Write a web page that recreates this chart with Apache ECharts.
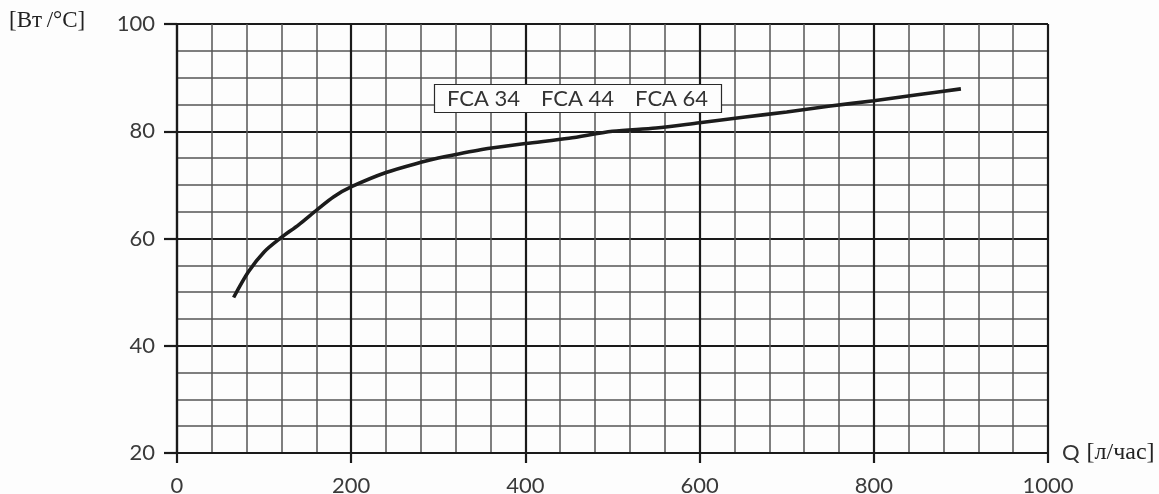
<!DOCTYPE html>
<html>
<head>
<meta charset="utf-8">
<script src="https://cdn.jsdelivr.net/npm/echarts@6/dist/echarts.min.js"></script>
<style>
  html, body { margin: 0; padding: 0; background: #fdfdfd; }
  #chart { width: 1159px; height: 494px; }
</style>
</head>
<body>
<div id="chart"></div>
<script>
// Heat output per degree vs. water flow for FCA 34 / 44 / 64
const flowLh = [65, 82, 100, 119, 140, 161, 180, 201, 240, 280, 300, 350, 400, 450, 500, 550, 600, 650, 700, 750, 800, 850, 900];
const outputWperC = [49, 53.8, 57.5, 60.1, 62.6, 65.4, 67.8, 69.7, 72.3, 74.2, 75.0, 76.6, 77.7, 78.7, 80.0, 80.6, 81.6, 82.6, 83.6, 84.7, 85.7, 86.8, 87.9];
const xTicks = [0, 200, 400, 600, 800, 1000];
const yTicks = [20, 40, 60, 80, 100];
const models = ['FCA 34', 'FCA 44', 'FCA 64'];
const yUnit = '[Вт\u2009/°C]';
const xName = 'Q';
const xUnit = '[л/час]';

const chart = echarts.init(document.getElementById('chart'), null, { renderer: 'canvas' });

const labelFont = 'Lato, "Open Sans", sans-serif';
const serifFont = '"Liberation Serif", "DejaVu Serif", serif';
const majorLine = { color: '#1a1a1a', width: 2.2 };
const minorLine = { color: '#555', width: 1.5 };

// model list shown in a framed box, groups separated by fixed gaps
const modelsText = models.map(m => '{a|' + m + '}').join('{g| }');

chart.setOption({
  backgroundColor: '#fdfdfd',
  animation: false,
  grid: {
    left: 177, right: 111, top: 24, bottom: 41,
    containLabel: false,
    outerBoundsMode: 'none'
  },
  title: {
    text: modelsText,
    left: 434,
    top: 84,
    padding: [3, 14, 3, 13],
    backgroundColor: '#fdfdfd',
    borderColor: '#2a2a2a',
    borderWidth: 1.2,
    textStyle: {
      fontWeight: 'normal',
      rich: {
        a: { fontFamily: labelFont, fontSize: 22, fontWeight: 'normal', color: '#333', lineHeight: 23 },
        g: { fontSize: 22, width: 21, lineHeight: 23 }
      }
    }
  },
  xAxis: {
    type: 'value',
    min: xTicks[0],
    max: xTicks[xTicks.length - 1],
    interval: xTicks[1] - xTicks[0],
    name: '{q|' + xName + '}{s| }{u|' + xUnit + '}',
    nameLocation: 'end',
    nameGap: 14,
    nameTextStyle: {
      rich: {
        q: { fontFamily: labelFont, fontSize: 22, color: '#333' },
        s: { fontSize: 22, width: 7 },
        u: { fontFamily: serifFont, fontSize: 24, color: '#222' }
      }
    },
    axisLine: { show: true, onZero: false, lineStyle: majorLine },
    axisTick: { show: true, length: 10, lineStyle: majorLine },
    axisLabel: {
      margin: 22,
      fontFamily: labelFont,
      fontSize: 22,
      color: '#3a3a3a',
      formatter: v => String(v)
    },
    splitLine: { show: true, lineStyle: majorLine },
    minorTick: { show: false, splitNumber: 5 },
    minorSplitLine: { show: true, lineStyle: minorLine }
  },
  yAxis: {
    type: 'value',
    min: yTicks[0],
    max: yTicks[yTicks.length - 1],
    interval: yTicks[1] - yTicks[0],
    axisLine: { show: true, onZero: false, lineStyle: majorLine },
    axisTick: { show: true, length: 13, lineStyle: majorLine },
    axisLabel: {
      margin: 22,
      fontFamily: labelFont,
      fontSize: 22,
      color: '#3a3a3a',
      formatter: v => String(v)
    },
    splitLine: { show: true, lineStyle: majorLine },
    minorTick: { show: false, splitNumber: 4 },
    minorSplitLine: { show: true, lineStyle: minorLine }
  },
  graphic: [
    {
      type: 'text',
      left: 9,
      top: 9,
      style: {
        text: yUnit,
        font: '23px ' + serifFont,
        fill: '#222'
      }
    }
  ],
  series: [
    {
      type: 'line',
      data: flowLh.map((q, i) => [q, outputWperC[i]]),
      smooth: 0.3,
      showSymbol: false,
      symbol: 'none',
      lineStyle: { color: '#1c1c1c', width: 3.6, cap: 'butt' },
      z: 5
    }
  ]
});
</script>
</body>
</html>
